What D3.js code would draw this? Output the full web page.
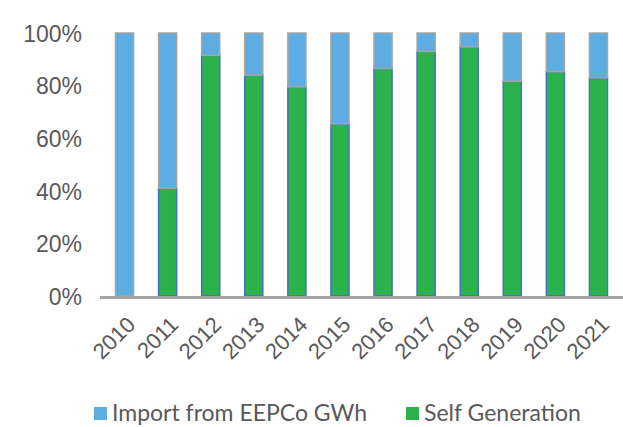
<!DOCTYPE html>
<html>
<head>
<meta charset="utf-8">
<script src="https://cdn.jsdelivr.net/npm/d3@7"></script>
<style>
  html, body { margin: 0; padding: 0; background: #fff; }
  svg { display: block; font-family: Lato, "Open Sans", sans-serif; }
</style>
</head>
<body>
<svg id="chart" width="623" height="427"></svg>
<script>
// Share of electricity supply by source, per year (percent)
const years = ["2010", "2011", "2012", "2013", "2014", "2015", "2016", "2017", "2018", "2019", "2020", "2021"];
const selfGeneration = [0, 41, 91.5, 84, 79.5, 65.5, 86.5, 93, 94.7, 81.7, 85.3, 83];
const importEEPCo = [100, 59, 8.5, 16, 20.5, 34.5, 13.5, 7, 5.3, 18.3, 14.7, 17];
const yTicks = [0, 20, 40, 60, 80, 100];
const seriesNames = ["Import from EEPCo GWh", "Self Generation"];
const seriesColors = ["#5DADE2", "#2BB24C"];
const seriesStrokes = ["#A5A5A5", "#4472C4"];

const svg = d3.select("#chart");
const margin = { left: 103, right: 3, top: 33, bottom: 131 };
const W = 623, H = 427;

const x = d3.scaleBand().domain(years).range([margin.left, W - margin.right]).paddingInner(0.58).paddingOuter(0.29);
const y = d3.scaleLinear().domain([0, 100]).range([H - margin.bottom, margin.top]);

const rows = years.map((yr, i) => ({ year: yr, self: selfGeneration[i], imp: importEEPCo[i] }));
const stacked = d3.stack().keys(["self", "imp"])(rows);

// stacked bars: self generation at the bottom, imports on top
const order = [1, 0]; // stack index -> series index
svg.append("g").selectAll("g").data(stacked).join("g")
  .each(function (layer, li) {
    const si = order[li];
    d3.select(this).selectAll("rect").data(layer.filter(d => d[1] - d[0] > 0)).join("rect")
      .attr("x", d => x(d.data.year))
      .attr("width", x.bandwidth())
      .attr("y", d => y(d[1]))
      .attr("height", d => y(d[0]) - y(d[1]))
      .attr("fill", seriesColors[si])
      .attr("stroke", seriesStrokes[si])
      .attr("stroke-width", 1.5);
  });

// y axis labels (no axis line)
const yAxis = d3.axisLeft(y).tickValues(yTicks).tickFormat(d => d + "%").tickSize(0).tickPadding(0);
const gy = svg.append("g").attr("transform", "translate(82,0)").call(yAxis);
gy.select(".domain").remove();
gy.selectAll("text").attr("font-size", 23).attr("fill", "#595959").attr("dy", "0.36em");

// category axis
const xAxis = d3.axisBottom(x).tickSize(0).tickPadding(0);
const gx = svg.append("g").attr("transform", `translate(0,${y(0)})`).call(xAxis);
gx.select(".domain").remove();
gx.selectAll("text")
  .attr("font-size", 22)
  .attr("fill", "#595959")
  .attr("text-anchor", "end")
  .attr("dy", null)
  .attr("transform", "translate(12,30) rotate(-45)");

svg.append("line")
  .attr("x1", 100).attr("x2", W)
  .attr("y1", y(0) + 1.5).attr("y2", y(0) + 1.5)
  .attr("stroke", "#A5A5A5").attr("stroke-width", 3);

// legend
const legendX = [94, 406];
const lg = svg.append("g").selectAll("g").data(seriesNames).join("g")
  .attr("transform", (d, i) => `translate(${legendX[i]},413)`);
lg.append("rect").attr("x", 0).attr("y", -6).attr("width", 13).attr("height", 13)
  .attr("fill", (d, i) => seriesColors[i]);
lg.append("text").attr("x", 18).attr("y", 0).attr("dy", "0.36em")
  .attr("font-size", 23).attr("fill", "#595959").text(d => d);
</script>
</body>
</html>
